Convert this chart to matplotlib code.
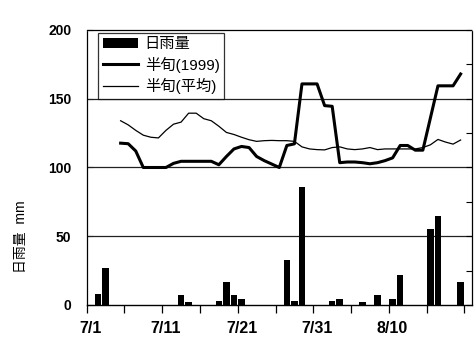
import numpy as np
import pandas as pd
import matplotlib
matplotlib.use("Agg")
import matplotlib.pyplot as plt
from matplotlib.ticker import MultipleLocator, FixedLocator

plt.rcParams['font.family'] = ['Liberation Sans', 'Noto Sans CJK JP']

# --- data (7/1 .. 8/20, one value per day) ---
days = pd.date_range("1999-07-01", "1999-08-20", freq="D")
day_labels = [f"{d.month}/{d.day}" for d in days]
tick_labels = ["7/1", "7/11", "7/21", "7/31", "8/10"]

rain_mm = [0, 8, 27, 0, 0, 0, 0, 0, 0, 0,
           0, 0, 7, 2.5, 0, 0, 0, 3, 16.5, 7,
           4, 0, 0, 0, 0, 0, 33, 3, 86, 0,
           0, 0, 3, 4.5, 0, 0, 2.5, 0, 7.5, 0,
           4, 21.5, 0, 0, 0, 55, 65, 0, 0, 16.5,
           0]

nan = np.nan
pentad_1999 = [nan, nan, nan, nan, 117.7, 117.3, 112, 100, 100, 100,
               100, 103, 104.5, 104.5, 104.5, 104.5, 104.5, 102, 108, 113.5,
               115.3, 114.5, 108, 105, 102.5, 100, 116, 117.2, 160.8, 160.8,
               160.8, 145, 144.5, 103.5, 104, 104, 103.5, 102.7, 103.5, 105,
               107, 116, 116, 112.6, 112.6, 136, 159.4, 159.4, 159.4, 168,
               nan]

pentad_avg = [nan, nan, nan, nan, 134, 131, 127, 123.5, 122, 121.5,
              127, 131.5, 133, 139.5, 139.5, 135.5, 134, 130, 125.5, 124,
              122, 120.2, 119, 119.5, 119.7, 119.5, 119.5, 119, 115, 113.5,
              113, 112.8, 114.5, 115, 113.5, 113, 113.5, 114.5, 113, 113.5,
              113.5, 113.5, 113.5, 113.5, 114.5, 116.5, 120.4, 118.5, 117, 120,
              nan]

x = np.arange(len(day_labels))

# --- figure ---
fig = plt.figure(figsize=(4.76, 3.44), dpi=100)
ax = fig.add_axes([0.182, 0.1134, 0.8095, 0.7994])

bars = ax.bar(x, rain_mm, width=0.86, color="black", label="日雨量", zorder=3)
l1, = ax.plot(x, pentad_1999, color="black", lw=2.2, label="半旬(1999)", zorder=4)
l2, = ax.plot(x, pentad_avg, color="black", lw=0.9, label="半旬(平均)", zorder=4)

ax.set_xlim(-0.5, len(x) - 0.5)
ax.set_ylim(0, 200)

# gridlines at 50/100/150
for yv in [50, 100, 150]:
    ax.axhline(yv, color="#222222", lw=0.9, zorder=2)

# y axis
ax.yaxis.set_major_locator(MultipleLocator(50))
ax.tick_params(axis="y", direction="in", length=4, width=0.8, pad=11, labelsize=10)

# x axis: tick marks at every 5th category boundary, labels every 10 days
ax.xaxis.set_major_locator(FixedLocator(np.arange(-0.5, len(x), 5)))
ax.xaxis.set_major_formatter(plt.NullFormatter())
ax.tick_params(axis="x", which="major", direction="out", length=6, width=0.9)
label_pos = [day_labels.index(t) for t in tick_labels]
ax.xaxis.set_minor_locator(FixedLocator(label_pos))
ax.set_xticklabels(tick_labels, minor=True)
ax.tick_params(axis="x", which="minor", length=0, pad=11.5, labelsize=11.5)

for lab in ax.get_yticklabels() + ax.get_xticklabels(minor=True):
    lab.set_fontweight("bold")

for side in ["top", "left", "right"]:
    ax.spines[side].set_linestyle((0, (1, 1)))
    ax.spines[side].set_linewidth(0.9)
ax.spines["bottom"].set_linewidth(1.0)

# right-side inward ticks every 25
ax2 = ax.twinx()
ax2.set_ylim(0, 200)
ax2.yaxis.set_major_locator(MultipleLocator(25))
ax2.tick_params(axis="y", direction="in", length=4, width=0.8, labelright=False)
for side in ["top", "left", "right", "bottom"]:
    ax2.spines[side].set_visible(False)

leg = ax.legend([bars, l1, l2], ["日雨量", "半旬(1999)", "半旬(平均)"],
                loc="upper left", bbox_to_anchor=(0.030, 0.99), borderaxespad=0,
                fontsize=11, frameon=True, fancybox=False, edgecolor="black",
                handlelength=2.3, handletextpad=0.45, labelspacing=0.35,
                borderpad=0.3)
leg.get_frame().set_linewidth(0.9)
leg.set_zorder(10)

fig.text(0.044, 0.311, "日雨量  mm", rotation=90, ha="center", va="center",
         fontsize=10)

fig.savefig("out.png", dpi=100)
